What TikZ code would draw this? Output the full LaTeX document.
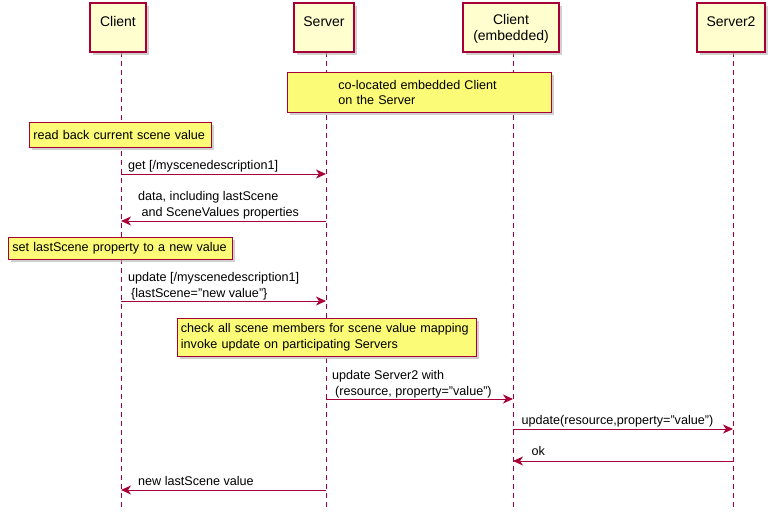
\documentclass[tikz,border=0pt]{standalone}
\usepackage{fontspec}
\setmainfont{Liberation Sans}
\usetikzlibrary{arrows.meta,shadows}
\definecolor{pborder}{HTML}{A80036}
\definecolor{pfill}{HTML}{FEFECE}
\definecolor{nfill}{HTML}{FBFB77}
\newcommand{\dq}{\symbol{34}}
\tikzset{
  partbox/.style={draw=pborder, fill=pfill, line width=1.1pt, inner sep=0pt,
    font=\fontsize{14}{16}\selectfont, align=center,
    drop shadow={shadow xshift=3pt, shadow yshift=-3pt, fill=black!30, opacity=0.6}},
  notebox/.style={draw=pborder, fill=nfill, line width=0.8pt, anchor=north west,
    font=\fontsize{12.6}{15.5}\selectfont, align=left, inner ysep=0pt,
    drop shadow={shadow xshift=3pt, shadow yshift=-3pt, fill=black!30, opacity=0.6}},
  lifeline/.style={draw=pborder, line width=0.9pt, dash pattern=on 5pt off 4pt},
  msg/.style={draw=pborder, line width=1pt, -{Stealth[length=10pt,width=9pt,inset=3pt]}},
  msglabel/.style={anchor=base west, inner sep=0pt, font=\fontsize{12.6}{15.5}\selectfont, align=left}
}
\begin{document}
\begin{tikzpicture}[x=1pt,y=-1pt]
\useasboundingbox (0,0) rectangle (775,519);
\fill[white] (0,0) rectangle (775,519);

% lifeline coordinates
\coordinate (lc) at (121,52);
\coordinate (ls) at (326,52);
\coordinate (le) at (513,52);
\coordinate (l2) at (733,52);
\coordinate (lcb) at (121,508);
\coordinate (lsb) at (326,508);
\coordinate (leb) at (513,508);
\coordinate (l2b) at (733,508);

\draw[lifeline] (lc) -- (lcb);
\draw[lifeline] (ls) -- (lsb);
\draw[lifeline] (le) -- (leb);
\draw[lifeline] (l2) -- (l2b);

% participants
\node[partbox, minimum width=56pt, minimum height=49pt] (client) at (118,27.5) {\rule{0pt}{13pt}Client\\\mbox{}};
\node[partbox, minimum width=60pt, minimum height=49pt] (server) at (324,27.5) {\rule{0pt}{13pt}Server\\\mbox{}};
\node[partbox, minimum width=96pt, minimum height=49pt] (emb) at (511,27.5) {\rule{0pt}{13pt}Client\\(embedded)};
\node[partbox, minimum width=68pt, minimum height=49pt] (server2) at (731,27.5) {\rule{0pt}{13pt}Server2\\\mbox{}};

% notes
\node[notebox, inner xsep=51pt, text width=162pt, minimum height=40pt] (n1) at (287,72)
  {\mbox{co-located embedded Client}\\\mbox{on the Server}};
\node[notebox, inner xsep=4pt, text width=174pt, minimum height=25pt] (n2) at (29,122)
  {\mbox{read back current scene value}};
\node[notebox, inner xsep=4pt, text width=216pt, minimum height=22pt] (n3) at (8,237)
  {\mbox{set lastScene property to a new value}};
\node[notebox, inner xsep=3.5pt, text width=292pt, minimum height=38pt] (n4) at (177,318)
  {\mbox{check all scene members for scene value mapping}\\\mbox{invoke update on participating Servers}};

% messages
\draw[msg] (lc |- 0,174) -- (ls |- 0,174);
\node[msglabel] (m1) at (128,169) {get [/myscenedescription1]};

\draw[msg] (ls |- 0,221) -- (lc |- 0,221);
\node[msglabel] (m2a) at (138,200.5) {data, including lastScene};
\node[msglabel] (m2b) at (141.5,216) {and SceneValues properties};

\draw[msg] (lc |- 0,301) -- (ls |- 0,301);
\node[msglabel] (m3a) at (128,281.5) {update [/myscenedescription1]};
\node[msglabel] (m3b) at (131,297) {\{lastScene=\dq new value\dq\}};

\draw[msg] (ls |- 0,399) -- (le |- 0,399);
\node[msglabel] (m4a) at (332,379.5) {update Server2 with};
\node[msglabel] (m4b) at (335,395) {(resource, property=\dq value\dq)};

\draw[msg] (le |- 0,429) -- (l2 |- 0,429);
\node[msglabel] (m5) at (521.5,424.5) {update(resource,property=\dq value\dq)};

\draw[msg] (l2 |- 0,461) -- (le |- 0,461);
\node[msglabel] (m6) at (531.5,455.5) {ok};

\draw[msg] (ls |- 0,490) -- (lc |- 0,490);
\node[msglabel] (m7) at (138,485.5) {new lastScene value};
\end{tikzpicture}
\end{document}
